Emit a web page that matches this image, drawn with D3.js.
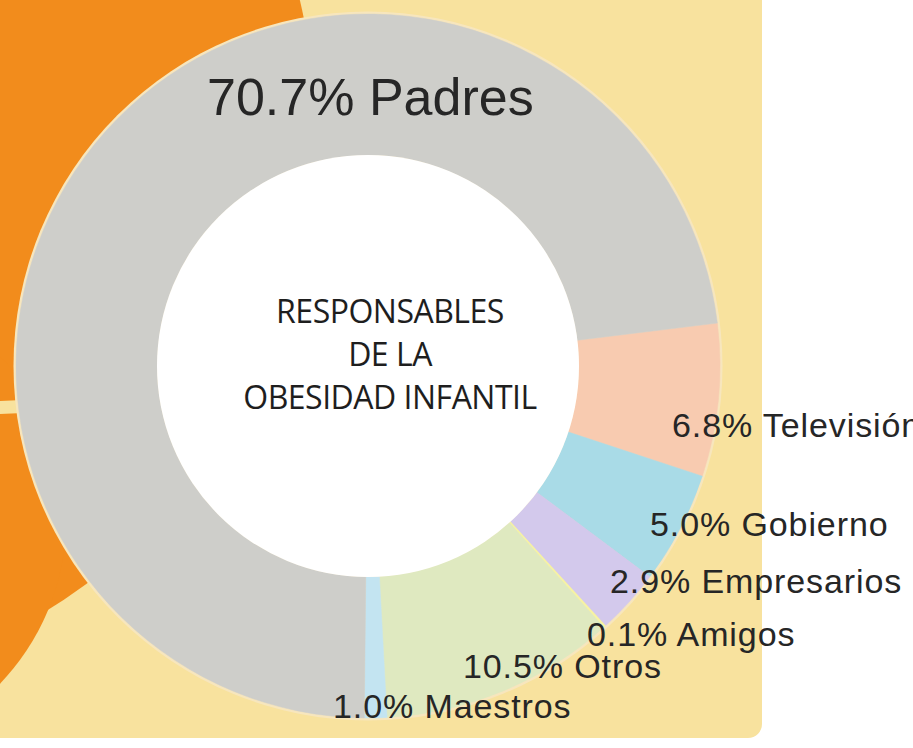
<!DOCTYPE html>
<html>

<head>
    <meta charset="utf-8">
    <script src="https://d3js.org/d3.v7.min.js"></script>
    <title>Responsables de la obesidad infantil</title>
    <style>
        body { margin: 0; background: #ffffff; }
        svg { display: block; }
    </style>
</head>

<body>
    <div id="chart"></div>
</body>

<script>
    // slices in clockwise order, starting just right of the 3 o'clock position
    const categories = ["Televisión", "Gobierno", "Empresarios", "Amigos", "Otros", "Maestros", "Padres"];
    const values = [6.8, 5.0, 2.9, 0.1, 10.5, 1.0, 70.7];
    const sliceColors = ["#f8cbb0", "#a9dbe7", "#d3c9ec", "#f7f3a2", "#dfe9c0", "#c3e4f1", "#cececa"];
    const titleLines = ["RESPONSABLES", "DE LA", "OBESIDAD INFANTIL"];

    // where each label starts (layout only)
    const labelAnchors = [[672, 437], [650, 536], [610, 593], [587, 646], [463, 678], [333, 718], [207, 115]];

    const width = 913, height = 748;
    const cx = 368, cy = 366;
    const outerR = 352, innerR = 211;
    const startDeg = 83;

    const svg = d3.select("#chart").append("svg")
        .attr("width", width)
        .attr("height", height);

    // yellow card behind everything
    svg.append("rect")
        .attr("x", -20).attr("y", -20)
        .attr("width", 782).attr("height", 758)
        .attr("rx", 14)
        .attr("fill", "#f8e29e");

    // pieces of the neighbouring orange chart on the left
    svg.append("circle").attr("cx", -250).attr("cy", 130).attr("r", 565).attr("fill", "#f28c1c");
    svg.append("circle").attr("cx", -170).attr("cy", 520).attr("r", 236).attr("fill", "#f28c1c");
    svg.append("line")
        .attr("x1", -10).attr("y1", 408).attr("x2", 80).attr("y2", 404)
        .attr("stroke", "#f8e29e").attr("stroke-width", 13);

    const g = svg.append("g").attr("transform", `translate(${cx},${cy})`);

    // thin pale rim around the donut
    g.append("circle").attr("r", outerR + 2.5).attr("fill", "#f7e6bd");

    const pie = d3.pie()
        .sort(null)
        .value(d => d.value)
        .startAngle(startDeg * Math.PI / 180)
        .endAngle((startDeg + 360) * Math.PI / 180);

    const arc = d3.arc().innerRadius(innerR).outerRadius(outerR);

    const data = categories.map((c, i) => ({ name: c, value: values[i], color: sliceColors[i] }));

    g.selectAll("path.slice")
        .data(pie(data))
        .enter()
        .append("path")
        .attr("class", "slice")
        .attr("d", arc)
        .attr("fill", d => d.data.color)
        .attr("stroke", d => d.data.color)
        .attr("stroke-width", 0.5);

    // white hole
    g.append("circle").attr("r", innerR).attr("fill", "#ffffff");

    // centre title
    svg.append("g")
        .selectAll("text")
        .data(titleLines)
        .enter()
        .append("text")
        .attr("x", 390)
        .attr("y", (d, i) => 323 + i * 43)
        .attr("text-anchor", "middle")
        .attr("font-family", "'Open Sans', 'Noto Sans', sans-serif")
        .attr("font-size", 32)
        .attr("letter-spacing", -0.5)
        .attr("fill", "#1e1e1e")
        .text(d => d);

    // slice labels
    svg.append("g")
        .selectAll("text")
        .data(data)
        .enter()
        .append("text")
        .attr("x", (d, i) => labelAnchors[i][0])
        .attr("y", (d, i) => labelAnchors[i][1])
        .attr("font-family", "'Liberation Sans', Arial, sans-serif")
        .attr("font-size", d => d.name === "Padres" ? 52 : 34)
        .attr("letter-spacing", d => d.name === "Padres" ? 0 : 0.9)
        .attr("fill", "#262626")
        .text(d => d3.format(".1f")(d.value) + "% " + d.name);

</script>

</html>
